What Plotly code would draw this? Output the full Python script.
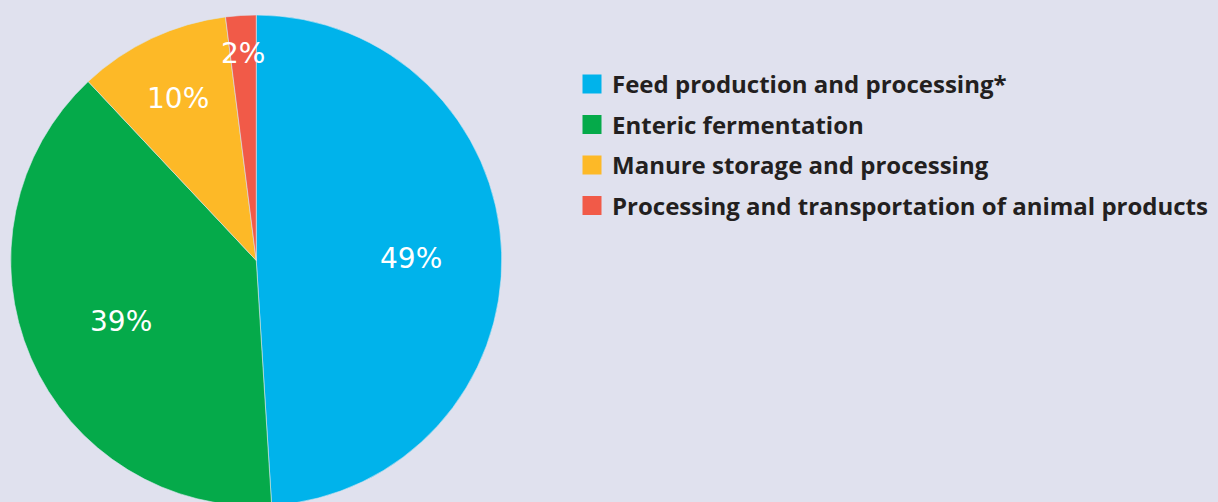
import math
import plotly.graph_objects as go

categories = ["Feed production and processing*", "Enteric fermentation",
              "Manure storage and processing", "Processing and transportation of animal products"]
values = [49, 39, 10, 2]
colors = ["#00b3eb", "#05aa4a", "#fdb927", "#f15a48"]

W, H = 1218, 506
BG = "#e0e1ee"
# pie domain in pixels (style)
PX0, PX1, PY0, PY1 = 10.5, 502.0, 0.0, 491.0
# radial placement of the value labels, as fraction of radius (style)
label_r = [0.63, 0.60, 0.745, 0.857]

fig = go.Figure()
fig.add_trace(go.Pie(
    labels=categories, values=values, sort=False, direction="clockwise", rotation=0,
    marker=dict(colors=colors, line=dict(color="#d8e6f0", width=0.6)),
    textinfo="none", showlegend=False, hoverinfo="label+percent",
    domain=dict(x=[PX0 / W, PX1 / W], y=[PY0 / H, PY1 / H]),
))
for i, (c, col) in enumerate(zip(categories, colors)):
    fig.add_trace(go.Scatter(
        x=[None], y=[None], mode="markers", name=c, legendgroup=str(i),
        marker=dict(symbol="square", size=16, color=col, line=dict(color=col, width=3)),
    ))

# value labels placed at each slice's mid-angle
total = sum(values)
cx, cy = (PX0 + PX1) / 2, (PY0 + PY1) / 2
R = min(PX1 - PX0, PY1 - PY0) / 2
cum = 0
annotations = []
for v, fr in zip(values, label_r):
    mid = (cum + v / 2) / total * 2 * math.pi
    cum += v
    x = cx + fr * R * math.sin(mid)
    y = cy + fr * R * math.cos(mid)
    annotations.append(dict(x=x / W, y=y / H, xref="paper", yref="paper", text=f"{v}%",
                            showarrow=False, xanchor="center", yanchor="middle", yshift=-3,
                            font=dict(family="DejaVu Sans", size=28, color="white")))

fig.update_layout(
    width=W, height=H, margin=dict(l=0, r=0, t=0, b=0),
    paper_bgcolor=BG, plot_bgcolor=BG,
    xaxis=dict(visible=False), yaxis=dict(visible=False),
    annotations=annotations,
    legend=dict(x=572 / W, y=1 - 62 / H, xanchor="left", yanchor="top",
                bgcolor="rgba(0,0,0,0)", tracegroupgap=6.3,
                font=dict(family="Open Sans", size=24, color="#231f20", weight="bold")),
)
fig.write_html("out.html", post_script="document.body.style.overflow='hidden';document.documentElement.style.overflow='hidden';document.body.style.margin='0';")
